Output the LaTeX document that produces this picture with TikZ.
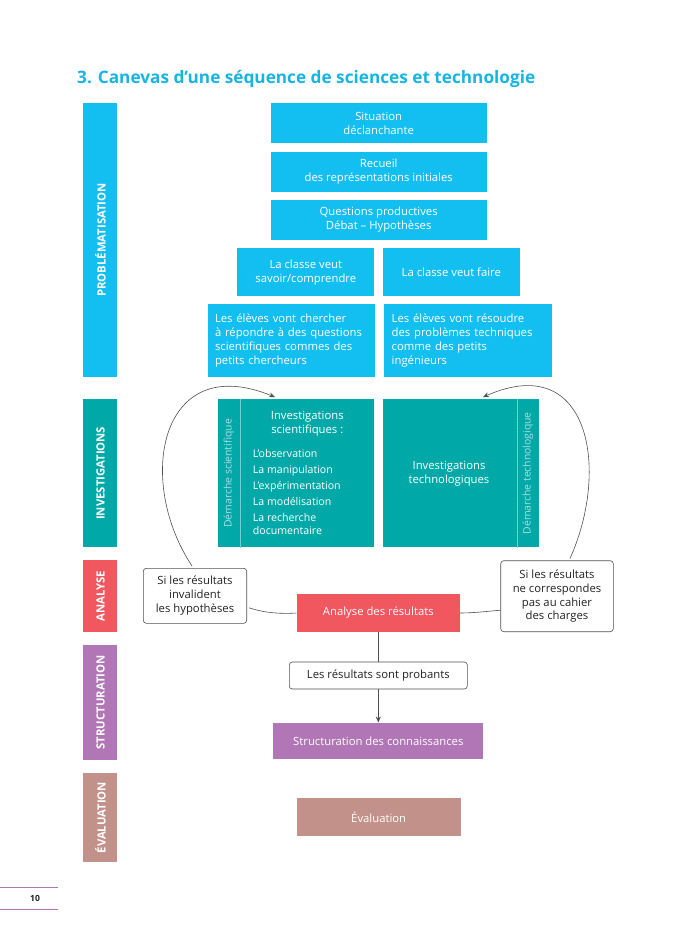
\documentclass[tikz,border=0pt]{standalone}
\usepackage{fontspec}
\setmainfont{Open Sans}
\usetikzlibrary{calc,arrows.meta}
\definecolor{cyanA}{HTML}{13BEF0}
\definecolor{tealA}{HTML}{00A9A8}
\definecolor{redA}{HTML}{F0575F}
\definecolor{purpA}{HTML}{B176B5}
\definecolor{brownA}{HTML}{C29189}
\definecolor{titleC}{HTML}{17B5E1}
\definecolor{lineC}{HTML}{505050}
\definecolor{txtC}{HTML}{222222}
\begin{document}
\begin{tikzpicture}[x=1pt,y=-1pt,
  box/.style={fill=#1, text=white, align=center, inner sep=0pt, font=\fontsize{11.3}{14}\selectfont},
  band/.style={fill=#1, minimum width=34pt, inner sep=0pt},
  bandlbl/.style={rotate=90, text=white, inner sep=0pt, font=\bfseries\fontsize{11.3}{12}\selectfont},
  note/.style={draw=lineC, rounded corners=3pt, fill=white, text=txtC, align=center, inner sep=0pt, line width=0.6pt, font=\fontsize{11.3}{13.8}\selectfont},
  dem/.style={rotate=90, text=white!65!tealA, inner sep=0pt, font=\fontsize{10.4}{11}\selectfont},
  conn/.style={draw=lineC, line width=0.6pt},
  tipped/.style={-{Stealth[length=6pt,width=5pt]}}
]
\useasboundingbox (0,0) rectangle (700,929);
\fill[white] (0,0) rectangle (700,929);

% title
\node[anchor=base west, inner sep=0pt, text=titleC, font=\bfseries\fontsize{17.2}{20}\selectfont] (title) at (77,83) {3. Canevas d’une séquence de sciences et technologie};

% bands
\node[band=cyanA, minimum height=274pt] (bprob) at (100,240) {};
\node[bandlbl] (lprob) at (100.5,240) {PROBLÉMATISATION};
\node[band=tealA, minimum height=148pt] (binv) at (100,473.3) {};
\node[bandlbl] (linv) at (100.5,473.3) {INVESTIGATIONS};
\node[band=redA, minimum height=72pt] (bana) at (100,596) {};
\node[bandlbl] (lana) at (100.5,596) {ANALYSE};
\node[band=purpA, minimum height=115pt] (bstr) at (100,702.5) {};
\node[bandlbl] (lstr) at (100.5,702.5) {STRUCTURATION};
\node[band=brownA, minimum height=89pt] (beva) at (100,817.5) {};
\node[bandlbl] (leva) at (100.5,817.5) {ÉVALUATION};

% problematisation boxes
\node[box=cyanA, minimum width=216pt, minimum height=40pt] (sit) at (378.7,123.3) {Situation\\déclanchante};
\node[box=cyanA, minimum width=216pt, minimum height=40pt] (rec) at (378.7,171.7) {Recueil\\des représentations initiales};
\node[box=cyanA, minimum width=216pt, minimum height=40pt] (que) at (378.7,220) {Questions productives\\Débat – Hypothèses};
\node[box=cyanA, minimum width=137pt, minimum height=47.7pt] (sav) at (305.8,272.2) {La classe veut\\savoir/comprendre};
\node[box=cyanA, minimum width=137.3pt, minimum height=47.7pt] (fai) at (451.3,272.2) {La classe veut faire};
\node[box=cyanA, minimum width=167.6pt, minimum height=72.4pt, text width=153pt, align=left] (che) at (291.5,340.5) {Les élèves vont chercher\\à répondre à des questions\\scientifiques commes des\\petits chercheurs};
\node[box=cyanA, minimum width=168pt, minimum height=72.4pt, text width=152pt, align=left] (res) at (467.7,340.5) {Les élèves vont résoudre\\des problèmes techniques\\comme des petits\\ingénieurs};

% investigations
\node[box=tealA, minimum width=156.6pt, minimum height=148pt] (invs) at (296,473.3) {};
\draw[white!45!tealA, line width=0.6pt] ($(invs.north west)+(22.6,0)$) -- ($(invs.south west)+(22.6,0)$);
\node[dem] (dsci) at (229,473.3) {Démarche scientifique};
\node[text=white, align=center, inner sep=0pt, font=\fontsize{11.3}{14}\selectfont] (invsh) at (307.3,424) {Investigations\\scientifiques :};
\node[anchor=west, text=white, align=left, inner sep=0pt, font=\fontsize{10.6}{13}\selectfont] (invsl) at (252.7,492.5) {L’observation\\[3pt]La manipulation\\[3pt]L’expérimentation\\[3pt]La modélisation\\[3pt]La recherche\\documentaire};

\node[box=tealA, minimum width=156.6pt, minimum height=148pt] (invt) at (461,473.3) {};
\draw[white!45!tealA, line width=0.6pt] ($(invt.north east)+(-22.6,0)$) -- ($(invt.south east)+(-22.6,0)$);
\node[dem] (dtec) at (528,473.3) {Démarche technologique};
\node[text=white, align=center, inner sep=0pt, font=\fontsize{11.3}{14}\selectfont] (invth) at (449,473.5) {Investigations\\technologiques};

% analyse
\node[note, minimum width=103.4pt, minimum height=55pt] (hyp) at (195,595.8) {Si les résultats\\invalident\\les hypothèses};
\node[box=redA, minimum width=163.3pt, minimum height=37.4pt] (ana) at (378.3,613) {Analyse des résultats};
\node[note, minimum width=112.6pt, minimum height=71pt] (cdc) at (557,596.2) {Si les résultats\\ne correspondes\\pas au cahier\\des charges};

% structuration / evaluation
\node[note, minimum width=178pt, minimum height=27pt] (pro) at (378.3,675.5) {Les résultats sont probants};
\node[box=purpA, minimum width=210pt, minimum height=36.6pt] (str) at (378.3,741) {Structuration des connaissances};
\node[box=brownA, minimum width=164pt, minimum height=37.4pt] (eva) at (378.7,817) {Évaluation};

% connectors
\draw[conn, tipped] ($(hyp.north)+(-3,-2)$) .. controls (135,480) and (160,350) .. ($(invs.north)+(-21,-2)$);
\draw[conn, tipped] ($(cdc.north)+(13,-2)$) .. controls (610,470) and (590,350) .. ($(invt.north)+(22,-2)$);
\draw[conn] ($(hyp.east)+(2,12)$) .. controls (265,613) and (280,614) .. (ana.west);
\draw[conn] (ana.east) .. controls (475,613) and (490,611) .. ($(cdc.west)+(0,14)$);
\draw[conn] (ana.south) -- (pro.north);
\draw[conn, tipped] (pro.south) -- (str.north);

% page number
\draw[purpA, line width=0.8pt] (0,887) coordinate (pl1) -- (58,887) coordinate (pl2);
\draw[purpA, line width=0.8pt] (0,909) coordinate (pl3) -- (58,909) coordinate (pl4);
\node[font=\bfseries\fontsize{8.5}{10}\selectfont, text=txtC, inner sep=0pt] (pnum) at (35,898) {10};
\end{tikzpicture}
\end{document}
